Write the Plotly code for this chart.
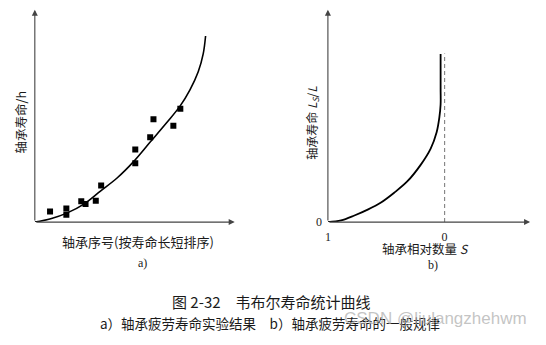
import plotly.graph_objects as go

W, H = 546, 345

# ---- Panel a: experimental data (arbitrary units) ----
a_curve_x = [0, 16, 32.7, 49.3, 66, 82.7, 99.3, 116, 132.7, 146, 156, 164.3, 169.3, 171.7]
a_curve_y = [0, 3.4, 9.4, 18.4, 31.7, 45, 61.7, 81.7, 101.7, 118.4, 135, 153.4, 171.7, 190]
a_pts_x = [15.3, 31.7, 31.7, 46.7, 51, 61.3, 66.7, 101, 101, 116, 119.3, 139.3, 146.3]
a_pts_y = [10.7, 14, 7.4, 21.4, 18.4, 21.7, 37.4, 74, 60, 86.7, 105, 98.4, 115.7]

# ---- Panel b: general law, S (relative number) vs L_S/L ----
b_S = [1.0, 0.887, 0.773, 0.659, 0.545, 0.432, 0.318, 0.205, 0.119, 0.068, 0.045, 0.034, 0.034, 0.034]
b_L = [0, 1.7, 6.7, 12.7, 20, 30, 41.7, 58.4, 75, 91.7, 106.7, 120, 136.7, 171.7]
b_dash_S = [0, 0]
b_dash_L = [0, 172]
b_ticks_x = [1, 0]
b_ticks_x_text = ["1", "0"]
b_ticks_y = [0]
b_ticks_y_text = ["0"]

A_XMAX, A_YMAX = 201, 216.7
B_XMIN, B_XMAX = -0.733, 1.0
B_YMAX = 216.7


def px(x):
    return x / W


def py(y):
    return (H - y) / H


fig = go.Figure()

fig.add_trace(go.Scatter(x=a_curve_x, y=a_curve_y, mode="lines",
                         line=dict(color="black", width=1.6, shape="spline"),
                         xaxis="x", yaxis="y", hoverinfo="skip"))
fig.add_trace(go.Scatter(x=a_pts_x, y=a_pts_y, mode="markers",
                         marker=dict(symbol="square", size=6, color="black"),
                         xaxis="x", yaxis="y", hoverinfo="skip"))
fig.add_trace(go.Scatter(x=b_dash_S, y=b_dash_L, mode="lines",
                         line=dict(color="#888888", width=1.2, dash="4px,3px"),
                         xaxis="x2", yaxis="y2", hoverinfo="skip"))
fig.add_trace(go.Scatter(x=b_S, y=b_L, mode="lines",
                         line=dict(color="black", width=1.8, shape="spline"),
                         xaxis="x2", yaxis="y2", hoverinfo="skip"))

y_dom = [py(226.7), py(10)]
fig.update_layout(
    width=W, height=H, margin=dict(l=0, r=0, t=0, b=0),
    paper_bgcolor="white", plot_bgcolor="white", showlegend=False,
    xaxis=dict(domain=[px(32), px(233)], range=[0, A_XMAX], visible=False, fixedrange=True),
    yaxis=dict(domain=y_dom, range=[0, A_YMAX], visible=False, fixedrange=True),
    xaxis2=dict(domain=[px(326.7), px(530)], range=[B_XMAX, B_XMIN], anchor="y2",
                showgrid=False, zeroline=False, showline=False,
                tickvals=b_ticks_x, ticktext=b_ticks_x_text, ticks="",
                ticklabelstandoff=6,
                tickfont=dict(family="Liberation Serif", size=12, color="#222")),
    yaxis2=dict(domain=y_dom, range=[0, B_YMAX], anchor="x2",
                showgrid=False, zeroline=False, showline=False,
                tickvals=b_ticks_y, ticktext=b_ticks_y_text, ticks="",
                ticklabelstandoff=5,
                tickfont=dict(family="Liberation Serif", size=12, color="#222")),
)

axis_col = "#444444"
arrows = [
    dict(x=A_XMAX, y=0, ax=0, ay=0, xref="x", yref="y", axref="x", ayref="y"),
    dict(x=0, y=A_YMAX, ax=0, ay=0, xref="x", yref="y", axref="x", ayref="y"),
    dict(x=B_XMIN, y=0, ax=B_XMAX, ay=0, xref="x2", yref="y2", axref="x2", ayref="y2"),
    dict(x=B_XMAX, y=B_YMAX, ax=B_XMAX, ay=0, xref="x2", yref="y2", axref="x2", ayref="y2"),
]
for a in arrows:
    fig.add_annotation(text="", showarrow=True, arrowhead=2, arrowsize=1.1,
                       arrowwidth=1.1, arrowcolor=axis_col, **a)

cjk = "Noto Sans CJK SC"
serif = "Liberation Serif"
txt = "#1a1a1a"
labels = [
    # (text, x, y, size, family, angle)
    ("轴承寿命/h", 18, 124, 12.5, cjk, -90),
    ("轴承序号(按寿命长短排序)", 136, 247, 13, cjk, 0),
    ("a)", 140, 268, 12, serif, 0),
    ("轴承寿命 <i>L</i><sub><i>S</i></sub>/<i>L</i>", 311, 125, 12, cjk, -90),
    ("轴承相对数量 <i>S</i>", 425, 254, 12.5, cjk, 0),
    ("b)", 432, 270, 12, serif, 0),
    ("图 2-32　韦布尔寿命统计曲线", 270, 308, 15, cjk, 0),
    ("a）轴承疲劳寿命实验结果　b）轴承疲劳寿命的一般规律", 268, 330, 13.5, cjk, 0),
]
for t, x, y, s, fam, ang in labels:
    fig.add_annotation(text=t, x=px(x), y=py(y), xref="paper", yref="paper",
                       showarrow=False, textangle=ang, xanchor="center", yanchor="middle",
                       font=dict(family=fam, size=s, color=txt))

fig.add_annotation(text="CSDN @liulangzhehwm", x=px(435), y=py(325), xref="paper", yref="paper",
                   showarrow=False, xanchor="center", yanchor="middle",
                   font=dict(family="Liberation Sans", size=17, color="rgba(170,170,170,0.7)"))

fig.write_html("out.html")
